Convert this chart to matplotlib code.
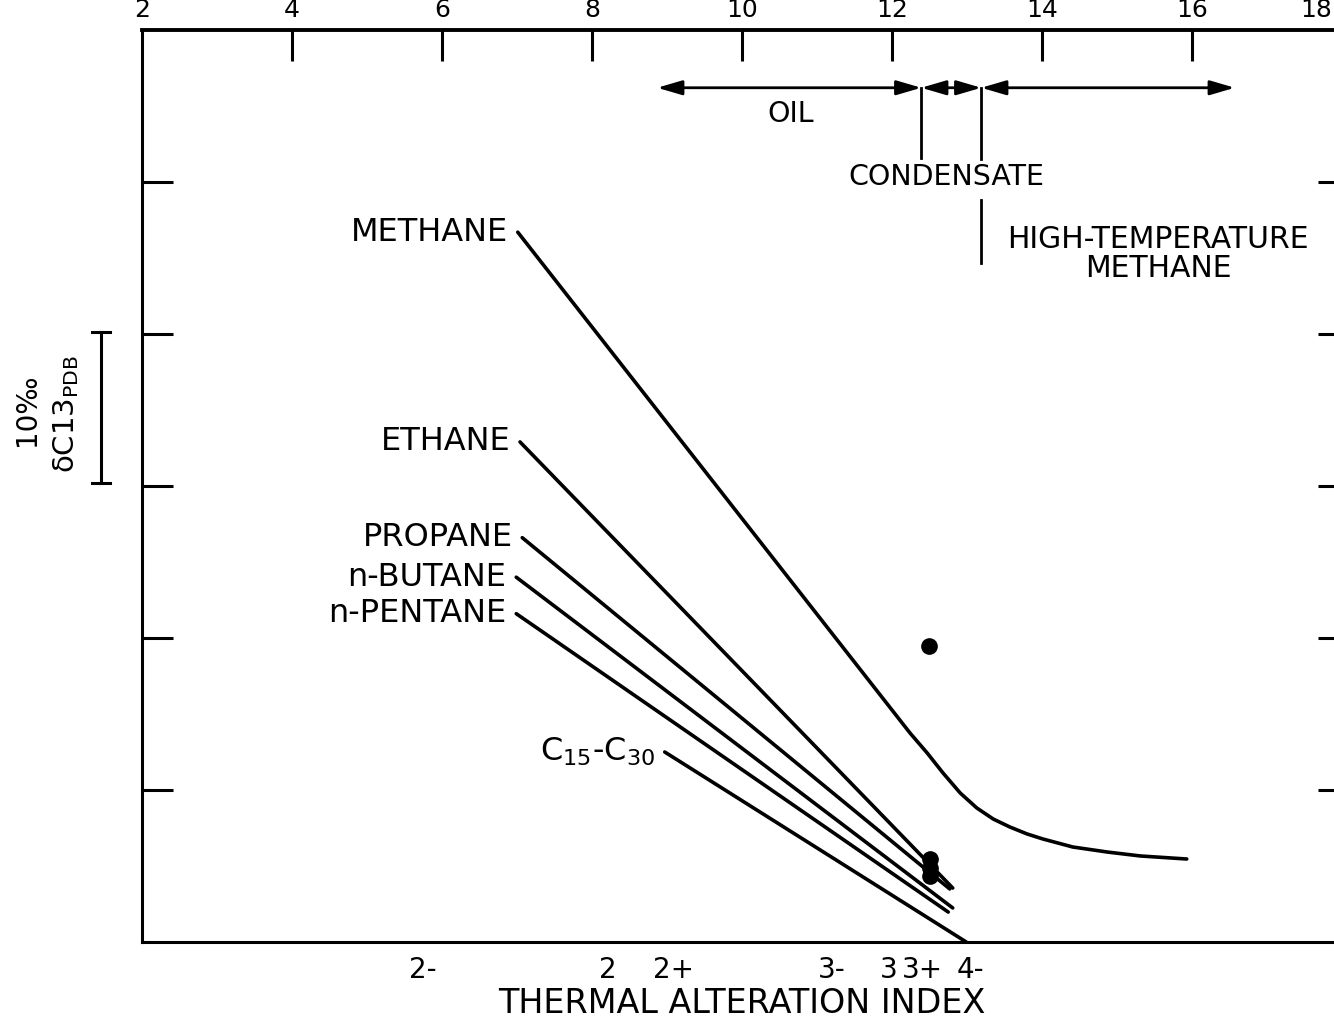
import matplotlib
matplotlib.use("Agg")
import matplotlib.pyplot as plt
import matplotlib.transforms as mtransforms

plt.rcParams['font.family'] = ['DejaVu Sans']
plt.rcParams['mathtext.fontset'] = 'dejavusans'

# Top scale and thermal alteration index labels
top_ticks = [2, 4, 6, 8, 10, 12, 14, 16, 18]
top_labels = ['2', '4', '6', '8', '10', '12', '14', '16', '18']
tai_pos = [5.75, 8.21, 9.09, 11.19, 11.95, 12.40, 13.04]
tai_labels = ['2-', '2', '2+', '3-', '3', '3+', '4-']

# delta C13 curves (relative, 10 units = 10 permil on the scale bar)
methane_x = [7.01, 12.24, 12.47, 12.68, 12.91, 13.13, 13.35, 13.57, 13.80, 14.01,
             14.41, 14.87, 15.31, 15.93]
methane_y = [46.7, 13.75, 12.43, 11.12, 9.80, 8.82, 8.09, 7.57, 7.11, 6.78,
             6.25, 5.92, 5.66, 5.46]

ethane_x = [7.04, 12.81]
ethane_y = [32.9, 3.55]
propane_x = [7.07, 12.77]
propane_y = [26.6, 3.49]
butane_x = [6.99, 12.81]
butane_y = [24.0, 2.24]
pentane_x = [6.99, 12.75]
pentane_y = [21.6, 1.97]
c15_x = [8.97, 12.99]
c15_y = [12.5, 0.0]

dots_x = [12.49, 12.51, 12.51, 12.51]
dots_y = [19.47, 5.46, 4.87, 4.34]

# Zone boundaries along the arrow bar
zone_edges = [8.87, 12.39, 13.19, 16.57]
arrow_y = 56.2

LW = 2.6
FS = 20
FS_LINE = 23

fig = plt.figure(figsize=(13.34, 10.23), dpi=100)
ax = fig.add_axes([142 / 1334, 81 / 1023, 1200 / 1334, 912 / 1023])
ax.set_xlim(2, 18)
ax.set_ylim(0, 60)

for side in ['left', 'bottom', 'right']:
    ax.spines[side].set_linewidth(2.2)
ax.spines['top'].set_linewidth(2.8)

# top axis ticks, pointing inward; the last label sits on the figure edge
ax.xaxis.tick_top()
ax.set_xticks(top_ticks, top_labels[:-1] + [''])
ax.tick_params(axis='x', top=True, bottom=False, direction='in', length=22,
               width=2.2, labeltop=True, labelbottom=False, labelsize=18, pad=6)
ax.xaxis.get_major_ticks()[0].tick2line.set_visible(False)
ax.annotate(top_labels[-1], xy=(top_ticks[-1], 1), xycoords=('data', 'axes fraction'),
            xytext=(-7, 6), textcoords='offset points', ha='right', va='bottom',
            fontsize=18, annotation_clip=False)

ax.set_yticks([10, 20, 30, 40, 50])
ax.tick_params(axis='y', left=True, right=False, direction='in', length=22,
               width=2.2, labelleft=False)

secy = ax.secondary_yaxis('right')
secy.set_yticks([10, 20, 30, 40, 50])
secy.tick_params(direction='in', length=17, width=2.2, labelright=False)

sec = ax.secondary_xaxis('bottom')
sec.set_xticks(tai_pos, tai_labels)
sec.tick_params(length=0, labelsize=FS, pad=10)
sec.spines['bottom'].set_visible(False)
sec.set_xlabel('THERMAL ALTERATION INDEX', fontsize=24, labelpad=2)

# curves with their labels at the left end
curves = [
    ('METHANE', methane_x, methane_y),
    ('ETHANE', ethane_x, ethane_y),
    ('PROPANE', propane_x, propane_y),
    ('n-BUTANE', butane_x, butane_y),
    ('n-PENTANE', pentane_x, pentane_y),
    ('C$_{15}$-C$_{30}$', c15_x, c15_y),
]
for name, xs, ys in curves:
    ax.plot(xs, ys, color='black', lw=LW, solid_capstyle='round',
            solid_joinstyle='round', clip_on=False)
    ax.annotate(name, xy=(xs[0], ys[0]), xytext=(-7, 0), textcoords='offset points',
                ha='right', va='center', fontsize=FS_LINE)

ax.plot(dots_x, dots_y, 'o', color='black', markersize=11)

# oil / condensate / high-temperature methane zones
for a, b in zip(zone_edges[:-1], zone_edges[1:]):
    ax.annotate('', xy=(b, arrow_y), xytext=(a, arrow_y),
                arrowprops=dict(arrowstyle='<|-|>,head_length=0.75,head_width=0.22',
                                mutation_scale=20, lw=2.0, color='black',
                                shrinkA=0, shrinkB=0))
ax.plot([zone_edges[1], zone_edges[1]], [arrow_y, 51.6], color='black', lw=2.0)
ax.plot([zone_edges[2], zone_edges[2]], [arrow_y, 51.5], color='black', lw=2.0)
ax.plot([zone_edges[2], zone_edges[2]], [48.8, 44.7], color='black', lw=2.0)

ax.text(10.65, 54.5, 'OIL', ha='center', va='center', fontsize=20.5)
ax.text(12.73, 50.3, 'CONDENSATE', ha='center', va='center', fontsize=20.5)
ax.text(15.55, 46.2, 'HIGH-TEMPERATURE', ha='center', va='center', fontsize=21.5)
ax.text(15.55, 44.3, 'METHANE', ha='center', va='center', fontsize=21.5)

# 10 permil scale bar on the left
tr = mtransforms.blended_transform_factory(fig.transFigure, ax.transData)
bx = 101 / 1334
cw = 9 / 1334
ax.plot([bx, bx], [30.2, 40.1], color='black', lw=2.2, transform=tr, clip_on=False)
for yy in [30.2, 40.1]:
    ax.plot([bx - cw, bx + cw], [yy, yy], color='black', lw=2.2, transform=tr, clip_on=False)

fig.text(27 / 1334, 1 - 410 / 1023, '10‰', rotation=90, ha='center', va='center', fontsize=FS)
fig.text(66 / 1334, 1 - 414 / 1023, 'δC13$_{\\mathrm{PDB}}$', rotation=90,
         ha='center', va='center', fontsize=21)

fig.savefig('out.png', dpi=100)
